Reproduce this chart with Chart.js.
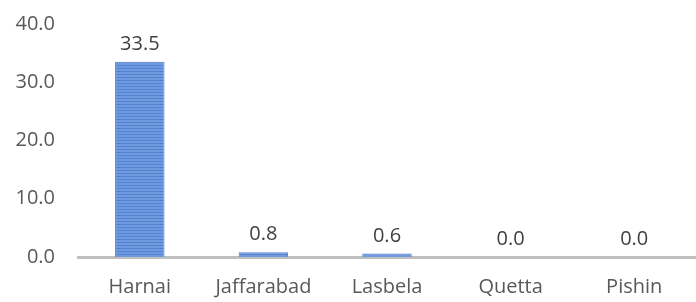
<!DOCTYPE html>
<html>
<head>
<meta charset="utf-8">
<script src="https://cdn.jsdelivr.net/npm/chart.js@4/dist/chart.umd.min.js"></script>
<style>
  html, body { margin: 0; padding: 0; background: #fff; }
  #wrap { width: 696px; height: 302px; }
</style>
</head>
<body>
<div id="wrap"><canvas id="chart" width="696" height="302"></canvas></div>
<script>
// Datos del gráfico
const categories = ['Harnai', 'Jaffarabad', 'Lasbela', 'Quetta', 'Pishin'];
const values = [33.5, 0.8, 0.6, 0.0, 0.0];
const yTicks = [0, 10, 20, 30, 40];

// Patrón de rayas horizontales para las barras
function stripePattern() {
    const c = document.createElement('canvas');
    c.width = 4; c.height = 3;
    const g = c.getContext('2d');
    g.fillStyle = '#7099de';
    g.fillRect(0, 0, 4, 3);
    g.fillStyle = '#5383d4';
    g.fillRect(0, 2, 4, 1);
    return g.createPattern(c, 'repeat');
}

// Etiquetas de valor encima de cada barra
const valueLabels = {
    id: 'valueLabels',
    afterDatasetsDraw(chart) {
        const ctx = chart.ctx;
        const meta = chart.getDatasetMeta(0);
        ctx.save();
        ctx.font = '20px "Open Sans"';
        ctx.fillStyle = '#404040';
        ctx.textAlign = 'center';
        ctx.textBaseline = 'alphabetic';
        meta.data.forEach((bar, i) => {
            ctx.fillText(values[i].toFixed(1), bar.x, bar.y - 12);
        });
        ctx.restore();
    }
};

const ctx = document.getElementById('chart').getContext('2d');
new Chart(ctx, {
    type: 'bar',
    data: {
        labels: categories,
        datasets: [{
            data: values,
            backgroundColor: stripePattern(),
            borderColor: '#4a7bd0',
            borderWidth: 1,
            barPercentage: 0.4,
            categoryPercentage: 1
        }]
    },
    options: {
        responsive: false,
        animation: false,
        layout: { padding: 0 },
        plugins: { legend: { display: false }, tooltip: { enabled: false } },
        scales: {
            x: {
                afterFit: axis => { axis.height = 45; },
                grid: { display: false, drawTicks: false },
                border: { display: true, color: '#bfbfbf', width: 3 },
                ticks: { color: '#595959', font: { family: 'Open Sans', size: 20 }, padding: 18 }
            },
            y: {
                min: 0,
                max: 40,
                afterBuildTicks: axis => { axis.ticks = yTicks.map(v => ({ value: v })); },
                afterFit: axis => {
                    axis.width = 78;
                    axis.paddingTop = 24;
                    axis.paddingBottom = 0;
                },
                grid: { display: false, drawTicks: false },
                border: { display: false },
                ticks: {
                    color: '#595959',
                    font: { family: 'Open Sans', size: 20 },
                    padding: 23,
                    callback: v => v.toFixed(1)
                }
            }
        }
    },
    plugins: [valueLabels]
});
</script>
</body>
</html>
